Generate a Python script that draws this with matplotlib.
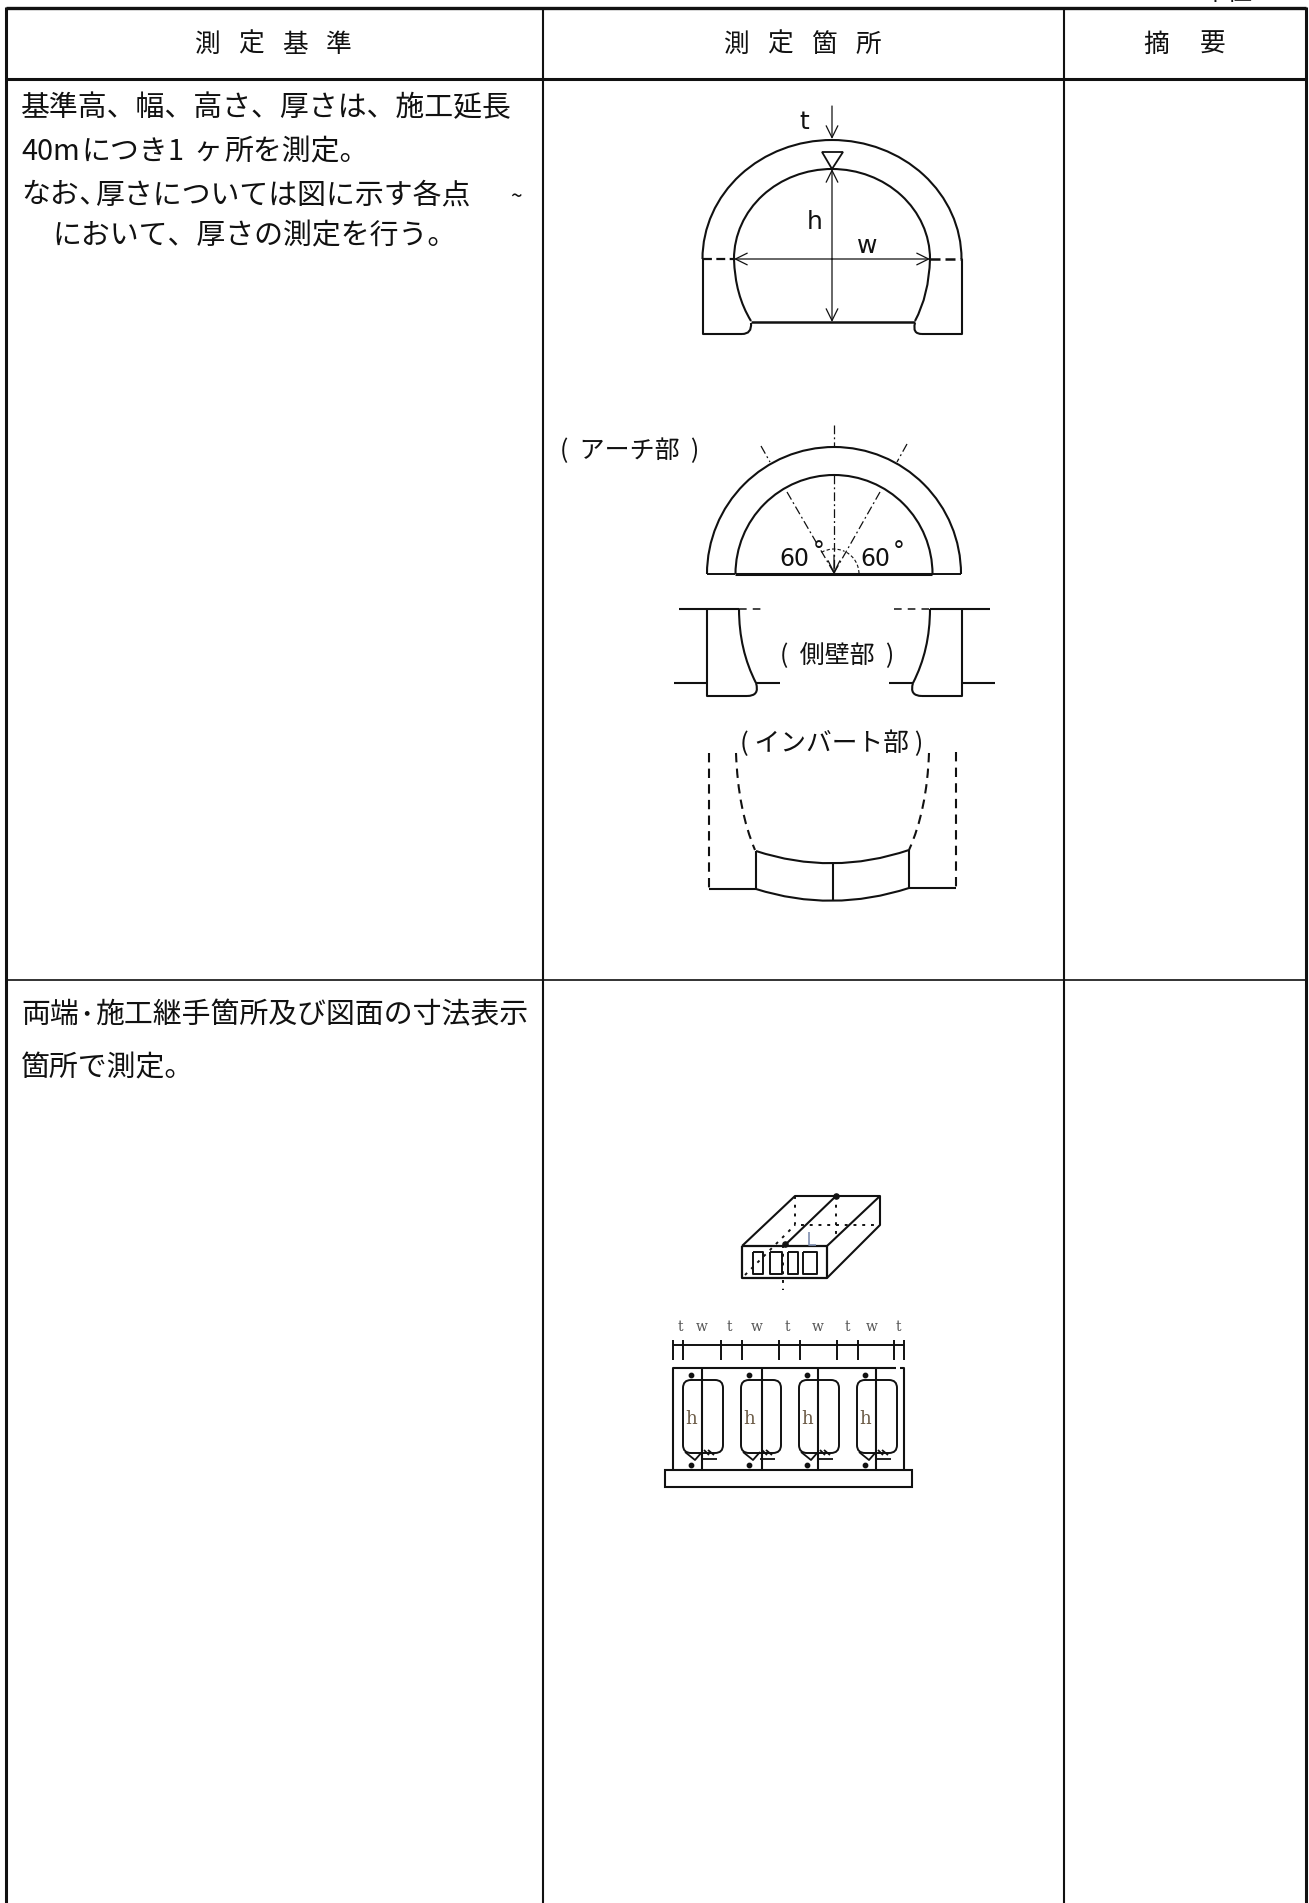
import numpy as np
import matplotlib
matplotlib.use('Agg')
import matplotlib.pyplot as plt
from matplotlib.patches import Arc, FancyBboxPatch, PathPatch, Polygon
from matplotlib.path import Path

plt.rcParams['font.family'] = ['Noto Sans CJK JP', 'DejaVu Sans']

# table text
headers = [['測', '定', '基', '準'], ['測', '定', '箇', '所'], ['摘', '要']]
header_x = [[207, 251, 295, 339], [736, 780, 824, 868], [1156, 1213]]
# (x, baseline y, text) pieces, the source has uneven spacing
body_x = [21, 21, 81, 167, 193, 224, 21, 79, 95, 510, 52, 21, 79, 95, 21]
body_y = [116, 160, 160, 160, 160, 160, 203, 203, 203, 203, 244, 1023, 1023, 1023, 1076]
body_text = ['基準高、幅、高さ、厚さは、施工延長', '40m', 'につき', '1', 'ヶ', '所を測定。', 'なお', '､',
             '厚さについては図に示す各点', '~', 'において、厚さの測定を行う。',
             '両端', '･', '施工継手箇所及び図面の寸法表示', '箇所で測定。']

# table rules
col_x = [6, 543, 1064, 1306]
row_y = [8, 79, 980]

# culvert drawing
culvert_x = [683, 741, 799, 857]
web_x = [702, 762, 818, 876]
tick_x = [673, 683, 721, 742, 779, 800, 837, 858, 894, 904]
dim_labels = ['t', 'w', 't', 'w', 't', 'w', 't', 'w', 't']
dim_label_x = [680, 702, 729, 757, 787, 818, 847, 872, 898]
window_x = [(753, 763), (770, 782), (788, 798), (803, 817)]

LINE = '#111111'
BODY_SIZE = 20.8

fig = plt.figure(figsize=(13.09, 19.03), dpi=100)
ax = fig.add_axes([0, 0, 1, 1])
ax.set_xlim(0, 1309)
ax.set_ylim(1903, 0)
ax.axis('off')


def line(xs, ys, lw=1.5, color=LINE, ls='-', alpha=1.0):
    ax.plot(xs, ys, color=color, lw=lw, ls=ls, alpha=alpha, solid_capstyle='butt')


def curve(p0, c, p1, lw=1.5, ls='-'):
    path = Path([p0, c, p1], [Path.MOVETO, Path.CURVE3, Path.CURVE3])
    ax.add_patch(PathPatch(path, fill=False, ec=LINE, lw=lw, ls=ls))


def arc(cx, cy, rx, ry, t1=180, t2=360, lw=1.5, ls='-'):
    ax.add_patch(Arc((cx, cy), 2 * rx, 2 * ry, theta1=t1, theta2=t2, ec=LINE, lw=lw, ls=ls))


def arrow(p0, p1):
    ax.annotate('', xy=p1, xytext=p0,
                arrowprops=dict(arrowstyle='->,head_length=0.85,head_width=0.42', mutation_scale=10,
                                lw=0.9, color=LINE, shrinkA=0, shrinkB=0))


def label(x, y, s, size=18, ha='center', va='center', family=None, color='#111111'):
    ax.text(x, y, s, fontsize=size, ha=ha, va=va, color=color,
            family=family if family else ['Noto Sans CJK JP', 'DejaVu Sans'])


# table
for i, x in enumerate(col_x):
    line([x, x], [row_y[0] - 1, 1903], lw=2.2 if i in (0, 3) else 1.5)
line([col_x[0], col_x[-1]], [row_y[0], row_y[0]], lw=2.4)
line([col_x[0], col_x[-1]], [row_y[1], row_y[1]], lw=2.2)
line([col_x[0], col_x[-1]], [row_y[2], row_y[2]], lw=1.2)

for chars, xs in zip(headers, header_x):
    for c, x in zip(chars, xs):
        label(x, 45, c, size=18.5)

for x, y, s in zip(body_x, body_y, body_text):
    label(x, y, s, size=BODY_SIZE if s != '~' else 15, ha='left', va='baseline')
label(1228, -7, '単位', size=18)

# full section
arc(832, 259, 129.5, 119)
arc(832, 259, 98, 90)
line([703, 703, 742], [259, 334, 334])
line([962, 962, 922], [259, 334, 334])
curve((742, 334), (752, 334), (751, 323))
curve((922, 334), (912, 334), (915, 323))
curve((734, 259), (735, 295), (751, 321))
curve((930, 259), (929, 295), (915, 321))
line([751, 915], [322, 322], lw=1.8)
line([703, 734], [259, 259], lw=1.6, ls=(0, (4, 2)))
line([930, 962], [259, 259], lw=1.8, ls=(0, (4, 2)))
arrow((832, 259), (832, 169))
arrow((832, 259), (832, 322))
arrow((832, 259), (734, 259))
arrow((832, 259), (930, 259))
arrow((832, 106), (832, 139))
ax.add_patch(Polygon([(822, 152), (843, 152), (832, 169)], closed=True, fill=False, ec=LINE, lw=1.3))
label(804, 122, 't', size=18, family=['DejaVu Sans'])
label(815, 222, 'h', size=18, family=['DejaVu Sans'])
label(867, 246, 'w', size=18, family=['DejaVu Sans'])

# arch part
label(630, 451, '(  アーチ部  )', size=18)
arc(834, 574, 127, 127)
arc(834, 574, 98.5, 99)
line([707, 735], [574, 574], lw=1.4)
line([735, 932], [574, 574], lw=2.2)
line([932, 961], [574, 574], lw=1.4)
dashdot = (0, (7, 2.5, 1.5, 2.5))
line([834, 834], [425, 446], lw=0.9, ls=dashdot)
line([834, 834], [475, 574], lw=0.9, ls=dashdot)
line([761, 770], [446, 462], lw=0.9, ls=dashdot)
line([907, 897], [444, 462], lw=0.9, ls=dashdot)
line([787, 834], [492, 573], lw=0.9, ls=dashdot)
line([880, 834], [492, 573], lw=0.9, ls=dashdot)
arc(834, 574, 25, 25, 240, 295, lw=0.8, ls=(0, (3, 2)))
arc(834, 574, 25, 25, 300, 360, lw=0.8, ls=(0, (3, 2)))
arrow((834, 555), (834, 574))
label(794, 559, '60', size=17, family=['DejaVu Sans'])
label(819, 552, '°', size=17, family=['DejaVu Sans'])
label(875, 559, '60', size=17, family=['DejaVu Sans'])
label(899, 552, '°', size=17, family=['DejaVu Sans'])

# side wall part
label(837, 655, '(  側壁部  )', size=18)
line([679, 739], [609, 609])
line([739, 762], [609, 609], lw=1.1, ls=(0, (5, 4)))
line([707, 707, 747], [609, 696, 696])
curve((739, 609), (739, 650), (756, 683))
curve((747, 696), (760, 696), (756, 683))
line([674, 707], [683, 683])
line([756, 780], [683, 683])
line([930, 990], [609, 609])
line([894, 930], [609, 609], lw=1.1, ls=(0, (5, 4)))
line([962, 962, 922], [609, 696, 696])
curve((930, 609), (930, 650), (913, 683))
curve((922, 696), (909, 696), (913, 683))
line([889, 913], [683, 683])
line([962, 995], [683, 683])

# invert part
label(832, 744, '( インバート部 )', size=18.5)
line([709, 709], [753, 888], ls=(0, (4.5, 3)))
line([956, 956], [752, 887], ls=(0, (4.5, 3)))
curve((736, 753), (738, 810), (755, 850), ls=(0, (4.5, 3)))
curve((929, 753), (927, 810), (909, 850), ls=(0, (4.5, 3)))
line([756, 756], [851, 889])
line([909, 909], [850, 888])
curve((756, 851), (832, 876), (909, 850))
curve((756, 889), (832, 913), (909, 888))
line([833, 833], [863, 901])
line([709, 756], [889, 889])
line([909, 956], [888, 888])

# culvert perspective
dots = (0, (1.5, 3))
line([742, 827, 827, 742, 742], [1246, 1246, 1278, 1278, 1246], lw=1.6)
line([742, 795, 880, 827], [1246, 1196, 1196, 1246], lw=1.5)
line([827, 880, 880], [1278, 1225, 1196], lw=1.5)
line([785, 836], [1245, 1196], lw=1.5)
line([795, 795, 880], [1196, 1225, 1225], lw=1.4, ls=dots)
line([836, 836], [1196, 1238], lw=1.4, ls=dots)
line([745, 795], [1275, 1225], lw=1.4, ls=dots)
line([783, 783], [1245, 1290], lw=1.4, ls=dots)
for x0, x1 in window_x:
    line([x0, x1, x1, x0, x0], [1252, 1252, 1274, 1274, 1252], lw=1.4)
ax.scatter([836, 785], [1196, 1244], s=14, color=LINE, zorder=3)
line([809, 809, 816], [1232, 1245, 1245], lw=1.2, color='#7f8fb0')

# culvert section
line([tick_x[0], tick_x[-1]], [1345, 1345], lw=1.4)
for i, x in enumerate(tick_x):
    line([x, x], [1340, 1360], lw=1.4)
for s, x in zip(dim_labels, dim_label_x):
    label(x, 1327, s, size=10, family=['DejaVu Serif'], color='#555555')
line([673, 673, 896], [1470, 1368, 1368], lw=1.5)
line([900, 904, 904], [1368, 1368, 1470], lw=1.5)
for x in web_x:
    line([x, x], [1368, 1470], lw=1.5)
ax.add_patch(Polygon([(665, 1470), (912, 1470), (912, 1487), (665, 1487)], closed=True, fill=False, ec=LINE, lw=1.5))
for x in culvert_x:
    ax.add_patch(FancyBboxPatch((x + 8, 1388), 24, 57, boxstyle='round,pad=8,rounding_size=8',
                                fill=False, ec=LINE, lw=1.4))
    ax.scatter([x + 8, x + 8], [1375, 1465], s=10, color=LINE, zorder=3)
    label(x + 8, 1419, 'h', size=13, family=['DejaVu Serif'], color='#6b5a45')
    line([x + 2, x + 12, x + 19], [1452, 1460, 1452], lw=1.3)
    line([x + 19, x + 34], [1459, 1459], lw=1.3)
    line([x + 25, x + 31], [1450, 1455], lw=1.3)
    line([x + 21, x + 26], [1450, 1455], lw=1.3)

fig.savefig('out.png', dpi=100)
